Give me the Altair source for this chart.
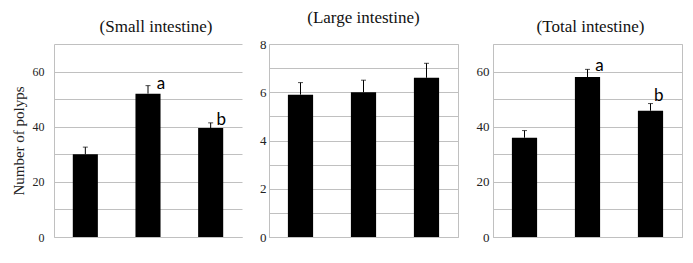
import altair as alt
import pandas as pd

groups = ["Group 1", "Group 2", "Group 3"]

small_mean = [30.0, 52.0, 39.5]
small_upper = [32.6, 54.9, 41.4]
large_mean = [5.9, 6.0, 6.6]
large_upper = [6.4, 6.5, 7.2]
total_mean = [36.0, 58.0, 45.8]
total_upper = [38.6, 60.8, 48.4]

small_sig_groups = ["Group 2", "Group 3"]
small_sig_letters = ["a", "b"]
small_sig_y = [53.7, 40.8]
total_sig_groups = ["Group 2", "Group 3"]
total_sig_letters = ["a", "b"]
total_sig_y = [60.2, 49.3]

panel_titles = ["(Small intestine)", "(Large intestine)", "(Total intestine)"]
y_title = "Number of polyps"

GRID = "#c0c0c0"
SERIF = "Liberation Serif"


def panel(mean, upper, ymax, grid_step, label_step, title, width, height,
          axis_extra, stroke, sig=None, sig_dx=None):
    df = pd.DataFrame({"group": groups, "mean": mean, "upper": upper})
    x = alt.X("group:N", sort=groups,
              scale=alt.Scale(paddingInner=0.6, paddingOuter=0.3),
              axis=alt.Axis(labels=False, ticks=False, title=None, grid=False,
                            domainColor=GRID))
    vals = [v * grid_step for v in range(int(round(ymax / grid_step)) + 1)]
    axis_kw = dict(values=vals,
                   labelExpr=f"datum.value % {label_step} == 0 ? datum.label : ''",
                   ticks=False, gridColor=GRID, domainColor=GRID,
                   labelFont=SERIF, labelColor="#222")
    axis_kw.update(axis_extra)
    yaxis = alt.Axis(**axis_kw)
    yscale = alt.Scale(domain=[0, ymax], nice=False, zero=True)
    base = alt.Chart(df)
    bars = base.mark_bar(color="black").encode(
        x=x, y=alt.Y("mean:Q", scale=yscale, axis=yaxis))
    err = base.mark_rule(color="black", strokeWidth=1).encode(
        x=x, y=alt.Y("mean:Q", scale=yscale, axis=yaxis), y2="upper:Q")
    cap = base.mark_tick(color="black", thickness=1, size=5,
                         orient="horizontal").encode(
        x=x, y=alt.Y("upper:Q", scale=yscale, axis=yaxis))
    layers = [bars, err, cap]
    if sig is not None:
        sg, sl, sy = sig
        sdf = pd.DataFrame({"group": sg, "letter": sl, "y": sy})
        for i, letter in enumerate(sl):
            layers.append(
                alt.Chart(sdf).transform_filter(alt.datum.letter == letter)
                .mark_text(font="Lato", fontSize=17, color="black",
                           align="center", baseline="alphabetic", dx=sig_dx[i])
                .encode(x=x, y=alt.Y("y:Q", scale=yscale, axis=yaxis),
                        text="letter:N"))
    return alt.layer(*layers).properties(
        width=width, height=height, title=title,
        view=alt.ViewBackground(stroke=stroke, strokeWidth=1))


t_small = alt.TitleParams(text=["", panel_titles[0]], font=SERIF, fontSize=17,
                          fontWeight="normal", color="#111", offset=8, dx=8,
                          lineHeight=13)
t_large = alt.TitleParams(text=["", panel_titles[1]], font=SERIF, fontSize=17,
                          fontWeight="normal", color="#111", offset=11,
                          lineHeight=2)
t_total = alt.TitleParams(text=["", panel_titles[2]], font=SERIF, fontSize=17,
                          fontWeight="normal", color="#111", offset=8, dx=3,
                          lineHeight=13)

p1 = panel(small_mean, small_upper, 70, 10, 20, t_small, 188, 193,
           dict(labelFontSize=12, labelPadding=10, domain=True, title=y_title,
                titleFont=SERIF, titleFontSize=15, titleFontWeight="normal",
                titleColor="#222", titlePadding=6),
           "transparent",
           sig=(small_sig_groups, small_sig_letters, small_sig_y), sig_dx=[13, 10.5])
p2 = panel(large_mean, large_upper, 8, 1, 2, t_large, 189, 193,
           dict(labelFontSize=13, labelPadding=3, domain=False, title=None,
                minExtent=10, maxExtent=10),
           GRID)
p3 = panel(total_mean, total_upper, 70, 10, 20, t_total, 189, 193,
           dict(labelFontSize=13, labelPadding=4, domain=False, title=None,
                minExtent=18, maxExtent=18),
           GRID,
           sig=(total_sig_groups, total_sig_letters, total_sig_y), sig_dx=[12, 8.3])

chart = alt.hconcat(p1, p2, p3, spacing=15).properties(
    padding={"left": 10, "top": 4, "right": 6, "bottom": 10}
).configure(background="white")

chart.save("out.html", embed_options={"renderer": "svg", "actions": False})
